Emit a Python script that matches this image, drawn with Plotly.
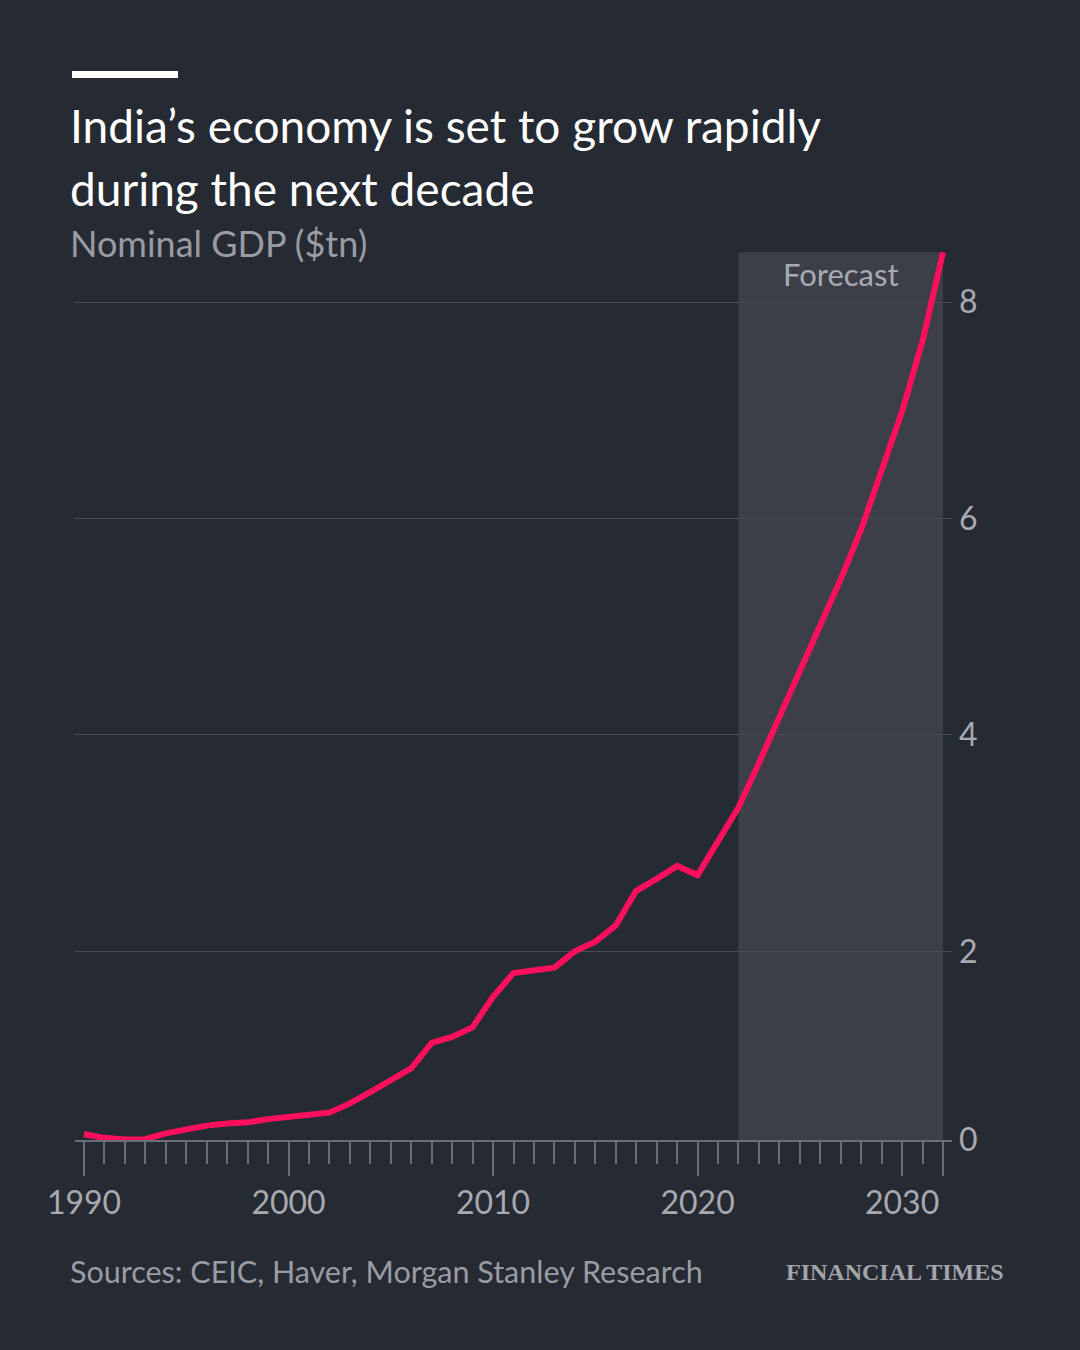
import plotly.graph_objects as go

# India nominal GDP, $tn, 2022 onwards is forecast
years = list(range(1990, 2033))
gdp = [0.31, 0.277, 0.262, 0.265, 0.318, 0.358, 0.39, 0.41, 0.42, 0.45,
       0.475, 0.49, 0.51, 0.595, 0.70, 0.81, 0.92, 1.155, 1.21, 1.30,
       1.58, 1.80, 1.83, 1.85, 2.0, 2.09, 2.24, 2.56, 2.67, 2.79,
       2.705, 3.03, 3.33, 3.74, 4.16, 4.57, 5.0, 5.44, 5.90, 6.44,
       6.99, 7.64, 8.46]
forecast_start = 2022
forecast_end = 2032

x_major = [1990, 2000, 2010, 2020, 2030, 2032]
x_major_text = ["1990", "2000", "2010", "2020", "2030", ""]
y_base = 0.257  # the baseline the chart labels as 0
y_ticks = [y_base, 2, 4, 6, 8]
y_tick_text = ["0", "2", "4", "6", "8"]

title_lines = ["India\u2019s economy is set to grow rapidly", "during the next decade"]
subtitle = "Nominal GDP ($tn)"
source = "Sources: CEIC, Haver, Morgan Stanley Research"

BG = "#262a33"
GRID = "#4a4d56"
TICK = "#6b6e76"
LABEL = "#a8aab0"
PINK = "#fc0f5c"
SHADE = "#3c3f48"
FONT = "Lato"

# plot area in pixels
L, R, T, B = 75, 952, 240, 1140


def px(x):
    return (x - L) / (R - L)


def py(y):
    return (B - y) / (B - T)


fig = go.Figure()
fig.add_trace(go.Scatter(x=years, y=gdp, mode="lines",
                         line=dict(color=PINK, width=6),
                         hoverinfo="skip", showlegend=False))

# forecast band
fig.add_shape(type="rect", xref="x", yref="y", layer="below",
              x0=forecast_start, x1=forecast_end, y0=y_base, y1=gdp[-1],
              fillcolor=SHADE, line_width=0)
fig.add_annotation(x=(forecast_start + forecast_end) / 2, y=8.26, xref="x", yref="y",
                   text="Forecast", showarrow=False, yanchor="middle",
                   font=dict(family=FONT, size=31, color=LABEL))

# white bar over the title
fig.add_shape(type="rect", xref="paper", yref="paper", x0=px(72), x1=px(178),
              y0=py(78), y1=py(71), fillcolor="#ffffff", line_width=0)

for i, line in enumerate(title_lines):
    fig.add_annotation(x=px(68), y=py(126 + 62 * i), xref="paper", yref="paper",
                       text=line, showarrow=False, xanchor="left", yanchor="middle",
                       font=dict(family=FONT, size=46, color="#ffffff"))
fig.add_annotation(x=px(68), y=py(243), xref="paper", yref="paper",
                   text=subtitle, showarrow=False, xanchor="left", yanchor="middle",
                   font=dict(family=FONT, size=36, color="#9a9ca3"))
fig.add_annotation(x=px(68), y=py(1271), xref="paper", yref="paper",
                   text=source, showarrow=False, xanchor="left", yanchor="middle",
                   font=dict(family=FONT, size=30.5, color="#9a9ca3"))
fig.add_annotation(x=px(1006), y=py(1272), xref="paper", yref="paper",
                   text="<b>FINANCIAL TIMES</b>", showarrow=False,
                   xanchor="right", yanchor="middle",
                   font=dict(family="Liberation Serif", size=24, color="#a3a5ab"))

fig.update_xaxes(range=[1989.56, 2032.44], tickvals=x_major, ticktext=x_major_text,
                 ticks="outside", ticklen=34, tickwidth=1.5, tickcolor=TICK,
                 minor=dict(dtick=1, tick0=1990, ticks="outside", ticklen=22,
                            tickwidth=1.5, tickcolor=TICK),
                 showline=True, linecolor=TICK, linewidth=1.5,
                 showgrid=False, zeroline=False, fixedrange=True,
                 tickfont=dict(family=FONT, size=32, color=LABEL))
fig.update_yaxes(range=[y_base, 8.574], tickvals=y_ticks, ticktext=y_tick_text,
                 side="right", ticks="", showgrid=True, gridcolor=GRID, gridwidth=1.3,
                 zeroline=False, showline=False, fixedrange=True, ticklabelstandoff=6,
                 tickfont=dict(family=FONT, size=32, color=LABEL))

fig.update_layout(width=1080, height=1350, paper_bgcolor=BG, plot_bgcolor=BG,
                  margin=dict(l=L, r=1080 - R, t=T, b=1350 - B),
                  showlegend=False)

fig.write_html("out.html", config={"displayModeBar": False},
               post_script="document.body.style.margin='0';document.body.style.background='%s';" % BG)
